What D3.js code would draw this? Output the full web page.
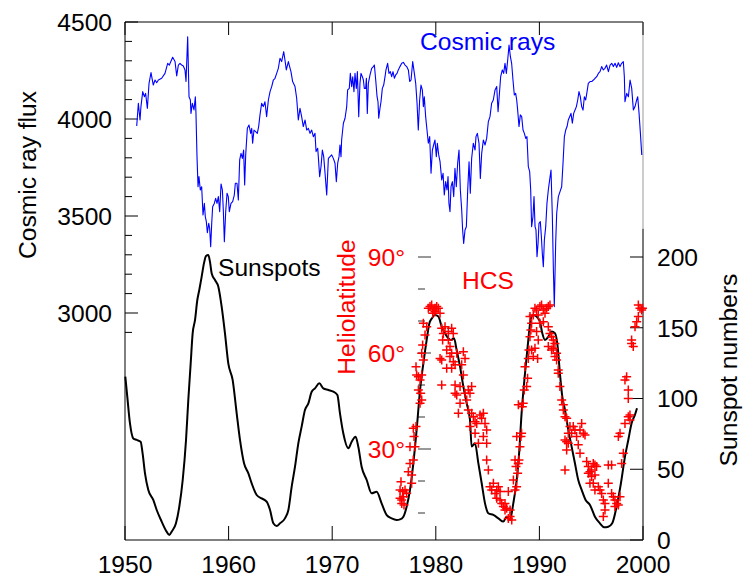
<!DOCTYPE html>
<html>
<head>
<meta charset="utf-8">
<script src="https://cdn.jsdelivr.net/npm/d3@7"></script>
<style>
  html, body { margin: 0; padding: 0; background: #fff; }
  svg { display: block; }
  text { font-family: "Liberation Sans", Arial, sans-serif; }
</style>
</head>
<body>
<svg id="chart" width="744" height="578"></svg>
<script>
// ---------------- DATA ----------------
const xTicks = [1950, 1960, 1970, 1980, 1990, 2000];
const fluxTicks = [4500, 4000, 3500, 3000];
const fluxMinorTicks = [4500,4400,4300,4200,4100,4000,3900,3800,3700,3600,3500,3400,3300,3200,3100,3000,2900];
const sunspotTicks = [0, 50, 100, 150, 200];
const latTicks = [30, 60, 90];
const latMinorTicks = [10, 20, 30, 40, 50, 60, 70, 80, 90];

const crYears = [
1951.13,1951.29,1951.45,1951.54,1951.71,1951.87,1951.99,1952.16,1952.32,1952.51,1952.73,1952.90,1953.06,1953.22,1953.54,1953.86,
1954.12,1954.28,1954.60,1954.83,1954.99,1955.15,1955.31,1955.47,1955.63,1955.79,1955.89,1956.05,1956.18,1956.31,1956.37,1956.50,
1956.66,1956.79,1956.85,1956.95,1957.05,1957.14,1957.27,1957.40,1957.53,1957.66,1957.75,1957.85,1957.95,1958.08,1958.17,1958.27,
1958.37,1958.46,1958.62,1958.75,1958.88,1959.01,1959.14,1959.27,1959.40,1959.49,1959.59,1959.72,1959.85,1959.97,1960.07,1960.23,
1960.39,1960.55,1960.65,1960.81,1960.94,1961.07,1961.20,1961.33,1961.45,1961.55,1961.65,1961.81,1961.97,1962.13,1962.23,1962.32,
1962.45,1962.61,1962.77,1962.90,1963.03,1963.19,1963.35,1963.51,1963.67,1963.84,1964.00,1964.16,1964.32,1964.48,1964.64,1964.80,
1964.96,1965.12,1965.32,1965.44,1965.57,1965.77,1965.89,1966.02,1966.18,1966.41,1966.57,
1966.73,1966.89,1967.05,1967.21,1967.38,1967.54,1967.70,1967.86,1968.02,1968.18,1968.34,1968.44,1968.60,1968.66,1968.79,1968.92,
1969.05,1969.18,1969.31,1969.47,1969.63,1969.79,1969.95,1970.11,1970.27,1970.40,1970.53,1970.66,1970.75,1970.85,1970.91,1971.08,
1971.24,1971.40,1971.49,1971.65,1971.75,1971.88,1971.98,1972.10,1972.20,1972.33,1972.43,1972.56,1972.68,1972.78,1972.91,1973.01,
1973.10,1973.23,1973.30,1973.39,1973.49,1973.65,1973.81,1973.97,1974.07,1974.20,1974.33,1974.42,1974.49,1974.61,1974.71,1974.84,
1974.97,1975.10,1975.19,1975.35,1975.48,1975.61,1975.74,1975.87,1976.00,1976.13,1976.26,1976.38,1976.54,1976.71,1976.87,1977.03,
1977.19,1977.35,1977.48,1977.61,1977.77,1977.93,1978.06,1978.19,1978.31,1978.44,1978.57,1978.70,1978.80,1978.89,1979.02,1979.15,
1979.28,1979.41,1979.54,1979.67,1979.79,1979.92,1980.05,1980.15,1980.28,1980.41,1980.57,1980.70,1980.82,1980.95,1981.08,1981.18,
1981.27,1981.37,1981.47,1981.60,1981.73,1981.85,1981.98,1982.11,1982.24,1982.37,1982.50,1982.59,1982.69,1982.82,1982.95,1983.08,
1983.21,1983.33,1983.46,1983.62,1983.79,1983.88,1984.01,1984.17,1984.30,1984.43,1984.59,1984.75,1984.91,1985.07,1985.23,1985.39,
1985.55,1985.72,1985.88,1986.01,1986.13,1986.26,1986.42,1986.55,1986.68,1986.81,1986.94,1987.07,1987.20,1987.32,1987.45,1987.58,
1987.71,1987.81,1987.90,1988.03,1988.16,1988.29,1988.42,1988.55,1988.68,1988.80,1988.93,1989.06,1989.16,1989.25,1989.38,1989.48,
1989.58,1989.67,1989.77,1989.87,1989.96,1990.09,1990.19,1990.28,1990.38,1990.48,1990.61,1990.73,1990.86,1990.99,1991.12,1991.25,
1991.35,1991.44,1991.57,1991.67,1991.83,1991.99,1992.15,1992.28,1992.41,1992.54,1992.67,1992.79,1992.92,1993.05,1993.18,1993.31,
1993.44,1993.57,1993.70,1993.82,1993.95,1994.08,1994.21,1994.34,1994.47,1994.60,1994.72,1994.89,1995.05,1995.21,1995.37,1995.53,
1995.69,1995.85,1996.01,1996.17,1996.33,1996.49,1996.66,1996.82,1996.98,1997.14,1997.30,1997.46,1997.62,1997.78,1997.94,1998.10,
1998.20,1998.26,1998.43,1998.59,1998.75,1998.91,1999.07,1999.23,1999.39,1999.49,1999.62,1999.75,1999.88
];
const crFlux = [
3964,4081,3995,4064,4141,4115,4132,4055,4184,4239,4175,4201,4187,4201,4210,4235,
4287,4278,4318,4296,4222,4278,4287,4278,4273,4253,4193,4424,4115,4098,4029,4081,
4047,4115,4029,3806,3651,3703,3634,3651,3505,3565,3497,3471,3414,3462,3437,3342,
3462,3548,3565,3591,3565,3600,3522,3665,3634,3531,3368,3522,3617,3600,3522,3565,
3574,3608,3669,3669,3583,3789,3823,3797,3840,3660,3815,3952,3969,3926,3952,3875,
3943,3935,3926,3961,4021,4081,4064,4089,4012,4098,4141,4167,4201,4210,4235,4261,
4313,4296,4347,4304,4253,4296,4270,4244,4193,4167,4107,
3995,4055,4012,3961,3995,3943,3952,3926,3943,3909,3926,3832,3849,3806,3703,3754,
3840,3806,3720,3608,3797,3806,3815,3797,3772,3677,3772,3806,3866,3806,3892,3978,
4004,4064,4150,4158,4235,4167,4218,4141,4235,4158,4244,4012,4184,4235,4218,4201,
4158,4158,4210,4029,4184,4227,4261,4270,4278,4201,4115,4089,4004,4055,4089,4158,
4175,4218,4253,4287,4235,4244,4218,4244,4210,4227,4235,4253,4270,4287,4292,4278,
4270,4253,4193,4201,4296,4235,4184,4081,3943,4098,4175,4150,4064,4115,4012,3943,
3875,3909,3720,3840,3866,3892,3806,3875,3815,3780,3686,3720,3608,3677,3634,3703,
3565,3522,3651,3677,3600,3746,3651,3772,3840,3634,3531,3428,3359,3428,3445,3634,
3780,3617,3797,3875,3840,3909,3926,3875,3694,3823,3892,3866,3900,3986,4012,4081,
4098,4150,4167,4038,4124,4218,4253,4235,4287,4235,4304,4381,4321,4287,4201,4124,
4132,4098,4047,3961,4021,4012,3943,3926,3900,3909,3754,3729,3634,3445,3497,3600,
3445,3428,3290,3359,3462,3471,3394,3308,3239,3376,3445,3565,3634,3686,3737,3497,
3222,3033,3359,3514,3600,3626,3651,3772,3909,3943,3961,3995,4012,4029,3978,4029,
4046,4064,4098,4141,4115,4064,4046,4115,4098,4141,4184,4193,4193,4201,4210,4218,
4235,4244,4270,4253,4261,4278,4244,4278,4287,4270,4287,4266,4290,4270,4287,4296,
4218,4089,4132,4115,4201,4158,4047,4064,4098,4115,4029,3926,3814
];

const ssYears = [
1950.03,1950.22,1950.48,1950.80,1951.13,1951.51,1951.70,1951.93,1952.25,1952.73,1953.06,1953.54,1954.02,1954.28,1954.50,1954.92,
1955.24,1955.57,1955.89,1956.11,1956.34,1956.53,1956.76,1956.98,1957.17,1957.40,1957.62,1957.82,1958.04,1958.20,1958.37,1958.69,
1959.01,1959.33,1959.65,1959.97,1960.39,1960.78,1961.10,1961.49,1961.91,1962.23,1962.71,1963.19,1963.67,1964.00,1964.32,1964.64,
1964.96,1965.44,1965.77,1966.09,1966.41,1966.73,1967.05,1967.37,1967.70,1968.02,1968.34,1968.76,1969.14,1969.63,1970.11,1970.50,
1970.75,1971.07,1971.56,1971.88,1972.26,1972.52,1972.84,1973.33,1973.81,1974.29,1974.77,1975.26,1975.74,1976.22,1976.55,1976.87,
1977.19,1977.51,1977.83,1978.15,1978.48,1978.80,1979.12,1979.38,1979.63,1979.92,1980.25,1980.57,1980.89,1981.21,1981.47,1981.76,
1982.01,1982.34,1982.66,1982.98,1983.30,1983.46,1983.78,1984.11,1984.43,1984.75,1985.07,1985.55,1986.04,1986.52,1986.84,1987.16,
1987.48,1987.81,1988.03,1988.28,1988.61,1988.93,1989.18,1989.41,1989.73,1990.05,1990.28,1990.54,1990.86,1991.18,1991.50,1991.76,
1991.98,1992.21,1992.47,1992.79,1993.11,1993.43,1993.75,1994.08,1994.46,1994.88,1995.36,1995.84,1996.26,1996.65,1997.03,1997.45,
1997.87,1998.26,1998.58,1998.90,1999.22,1999.42
];
const ssNumbers = [
115.4,101.3,82.4,71.8,70.7,69.5,61.2,47.1,35.3,28.3,21.2,13.0,5.9,3.5,5.9,11.8,
23.5,42.4,70.7,98.9,124.8,146.0,155.5,169.6,176.7,186.1,195.5,200.7,201.4,196.7,188.4,183.7,
179.0,164.9,146.0,124.8,113.1,89.5,70.7,54.2,47.1,40.0,31.8,29.4,27.1,21.2,11.8,9.9,
11.8,15.3,21.2,37.7,51.8,68.3,80.1,91.9,96.6,104.8,107.2,110.7,107.2,106.0,104.8,102.5,
89.5,75.4,64.8,69.5,73.0,65.9,51.8,42.4,33.0,34.1,25.9,17.6,15.3,14.2,14.6,16.5,
23.6,35.4,54.2,77.8,106.0,124.9,141.4,153.1,156.7,159.0,157.9,150.8,146.1,142.5,141.4,142.5,
134.3,122.5,108.4,96.6,84.8,66.0,68.3,54.2,40.1,25.9,18.9,17.7,15.3,13.0,16.5,14.2,
25.9,42.4,60.0,89.5,117.8,141.4,156.7,159.0,157.9,154.3,146.1,141.4,143.7,147.3,146.1,136.7,
117.8,101.3,91.9,77.8,66.0,54.2,42.4,35.4,28.3,24.8,16.5,11.8,9.0,9.4,11.8,23.6,
40.1,58.9,70.7,82.5,88.4,93.1
];

const hcsYears = [
1976.71,1976.87,1976.55,1977.03,1976.71,1976.93,1977.19,1976.80,1976.55,1976.64,1977.35,1977.51,1977.67,1977.67,1977.83,1977.99,
1977.51,1977.90,1977.83,1978.09,1978.48,1978.64,1978.54,1978.32,1978.48,1978.15,1978.32,1978.09,1978.64,1978.80,1978.64,1978.73,
1978.96,1979.12,1978.80,1979.28,1979.44,1979.60,1979.76,1979.92,1980.09,1980.25,1979.70,1979.92,1980.41,1980.57,1980.73,1980.89,
1980.66,1981.21,1981.05,1981.37,1981.53,1981.69,1981.21,1980.41,1980.57,1981.05,1981.53,1981.69,1981.86,1981.53,1982.02,1981.37,
1980.57,1981.86,1982.34,1982.50,1982.66,1982.82,1982.66,1981.86,1982.02,1982.34,1982.18,1982.82,1982.98,1983.14,1983.30,1983.46,
1983.14,1983.46,1983.63,1983.30,1983.79,1983.95,1983.79,1984.11,1984.27,1984.43,1984.59,1984.75,1984.91,1984.59,1984.91,1984.91,
1985.07,1985.23,1985.40,1985.56,1985.72,1985.88,1985.88,1986.04,1986.20,1986.20,1986.36,1986.52,1986.68,1986.84,1987.00,1986.68,
1987.17,1987.33,1987.00,1987.17,1987.65,1987.81,1987.97,1987.74,1987.65,1987.49,
1987.80,1987.90,1988.03,1988.12,1988.22,1988.28,1987.96,1988.35,1988.44,1988.54,1988.77,1988.86,1988.61,1988.93,1988.99,1989.09,
1989.18,1989.25,1989.09,1989.41,1989.57,1989.73,1989.89,1990.05,1990.21,1990.38,1990.54,1990.70,1990.86,1991.02,1990.05,1990.38,
1989.73,1989.89,1989.57,1989.25,1989.41,1989.83,1990.86,1991.02,1991.18,1991.34,1991.50,1990.86,1991.18,1991.34,1991.50,1991.66,
1991.66,1991.82,1991.82,1991.98,1992.15,1992.31,1992.31,1992.47,1992.63,1992.47,1992.63,1992.79,1992.63,1992.79,1992.95,1993.27,
1993.11,1993.43,1993.59,1993.92,1994.08,1994.24,1994.40,1993.75,1993.92,1992.47,1994.56,1994.72,1994.88,1995.04,1995.20,1995.36,
1995.52,1994.72,1995.04,1995.36,1994.88,1995.20,1995.36,1995.69,1995.85,1996.01,1996.17,1996.33,1996.33,1996.17,1996.65,1996.97,
1997.13,1997.29,1997.46,1997.62,1997.29,1997.78,1996.65,1996.97,1997.94,1998.10,1997.62,1997.78,1998.26,1998.58,1998.74,1998.74,
1998.26,1998.42,1998.58,1998.58,1998.90,1999.06,1998.90,1999.23,1999.39,1999.55,1999.71,1999.87,1999.55,1999.95
];
const hcsLat = [
14.1,15.1,14.6,17.2,13.0,12.5,16.2,16.7,17.2,19.8,22.9,25.5,19.3,21.9,26.6,30.7,
30.7,33.9,36.5,37.0,44.3,45.3,47.4,48.4,51.6,53.1,52.6,55.7,53.1,57.8,59.9,62.5,
65.6,68.2,69.3,74.0,74.5,75.0,73.4,74.0,74.5,74.0,72.4,72.9,72.4,67.7,66.1,68.2,
64.1,64.1,60.9,62.0,67.7,66.1,66.7,58.3,57.8,55.2,55.2,57.3,56.3,59.9,59.9,58.9,
50.0,50.0,49.5,56.3,60.4,58.3,53.1,47.4,46.9,44.3,41.2,47.4,45.3,48.4,47.4,49.5,
42.2,41.2,40.1,37.0,38.5,38.0,34.9,31.8,40.6,39.6,41.2,38.0,35.9,33.9,31.8,26.6,
23.4,18.2,17.2,19.3,16.1,17.2,14.6,18.2,16.7,14.1,13.0,12.0,10.9,11.5,16.7,13.0,
8.9,7.8,8.3,10.9,26.6,33.9,43.8,24.5,17.2,20.3,
18.2,22.4,26.6,30.7,33.9,34.9,25.5,43.2,44.3,48.4,49.5,52.1,55.7,58.3,60.9,65.1,
67.2,69.3,71.4,71.9,74.0,73.4,71.9,74.5,75.0,73.4,72.4,74.0,74.5,75.0,69.3,69.8,
66.7,64.1,61.5,60.9,58.9,58.3,68.2,66.1,65.1,64.1,63.0,62.0,60.9,61.5,58.9,59.9,
57.8,54.7,53.7,49.5,45.3,43.8,42.2,40.1,39.6,32.8,32.3,31.8,29.7,34.9,37.0,37.0,
34.9,35.9,33.9,35.9,38.0,34.9,34.4,31.3,28.7,23.4,26.1,24.5,22.9,23.4,25.5,25.0,
24.5,22.4,21.4,21.9,19.3,19.3,17.2,18.2,17.2,16.1,14.1,13.0,10.9,8.9,19.3,16.1,
15.1,14.1,13.0,12.5,12.0,15.1,25.0,25.0,25.5,28.7,33.9,34.9,38.0,40.1,40.6,39.1,
51.6,52.6,48.4,45.8,63.0,62.0,64.1,68.2,69.8,71.4,74.0,73.4,75.0,74.0
];

// ---------------- CHART ----------------
const svg = d3.select("#chart");
const L = 125, R = 643, T = 22, B = 540;
const FS = 24.6;

const x = d3.scaleLinear().domain([1950, 2000]).range([L, R]);
const yFlux = d3.scaleLinear().domain([3000, 4500]).range([313, T]);
const ySS = d3.scaleLinear().domain([0, 200]).range([B, 257]);
const yLat = d3.scaleLinear().domain([0, 90]).range([545, 257]);

// frame
svg.append("line").attr("x1", L).attr("x2", R).attr("y1", T).attr("y2", T).attr("stroke", "#000").attr("stroke-width", 1);
svg.append("line").attr("x1", L).attr("x2", L).attr("y1", T).attr("y2", B).attr("stroke", "#000").attr("stroke-width", 1);
svg.append("line").attr("x1", L).attr("x2", R).attr("y1", B).attr("y2", B).attr("stroke", "#000").attr("stroke-width", 1);
svg.append("line").attr("x1", R).attr("x2", R).attr("y1", T).attr("y2", ySS(220)).attr("stroke", "#999").attr("stroke-width", 1);
svg.append("line").attr("x1", R).attr("x2", R).attr("y1", ySS(220)).attr("y2", B).attr("stroke", "#222").attr("stroke-width", 1.2);

// x ticks (top and bottom, inward)
const xt = svg.append("g");
xTicks.forEach(t => {
  xt.append("line").attr("x1", x(t)).attr("x2", x(t)).attr("y1", B).attr("y2", B - 14).attr("stroke", "#000");
  xt.append("line").attr("x1", x(t)).attr("x2", x(t)).attr("y1", T).attr("y2", T + 13).attr("stroke", "#000");
  xt.append("text").attr("x", x(t)).attr("y", 573).attr("text-anchor", "middle")
    .attr("font-size", FS).attr("fill", "#000").text(t);
});

// left flux axis
const ly = svg.append("g");
fluxMinorTicks.forEach(t => {
  const major = fluxTicks.includes(t);
  ly.append("line").attr("x1", L).attr("x2", L + (major ? 13 : 7))
    .attr("y1", yFlux(t)).attr("y2", yFlux(t)).attr("stroke", "#000");
});
fluxTicks.forEach(t => {
  ly.append("text").attr("x", 112).attr("y", yFlux(t)).attr("dy", "0.36em")
    .attr("text-anchor", "end").attr("font-size", FS).attr("fill", "#000").text(t);
});
svg.append("text").attr("transform", "translate(27,175) rotate(-90)")
  .attr("text-anchor", "middle").attr("dy", "0.36em").attr("font-size", FS).attr("fill", "#000")
  .text("Cosmic ray flux");

// right sunspot axis
const ry = svg.append("g");
sunspotTicks.forEach(t => {
  ry.append("line").attr("x1", R).attr("x2", R - 13).attr("y1", ySS(t)).attr("y2", ySS(t)).attr("stroke", "#000");
  ry.append("text").attr("x", 657).attr("y", ySS(t)).attr("dy", "0.36em")
    .attr("text-anchor", "start").attr("font-size", FS).attr("fill", "#000").text(t);
});
svg.append("text").attr("transform", "translate(728,370) rotate(-90)")
  .attr("text-anchor", "middle").attr("dy", "0.36em").attr("font-size", FS).attr("fill", "#000")
  .text("Sunspot numbers");

// heliolatitude floating axis
const hx = 418;
const hy = svg.append("g");
latMinorTicks.forEach(t => {
  const major = latTicks.includes(t);
  hy.append("line").attr("x1", hx).attr("x2", hx + (major ? 13 : 7))
    .attr("y1", yLat(t)).attr("y2", yLat(t)).attr("stroke", "#333").attr("stroke-width", 1);
});
latTicks.forEach(t => {
  hy.append("text").attr("x", 405).attr("y", yLat(t)).attr("dy", "0.36em")
    .attr("text-anchor", "end").attr("font-size", FS).attr("fill", "#ff0000").text(t + "°");
});
svg.append("text").attr("transform", "translate(346,307) rotate(-90)")
  .attr("text-anchor", "middle").attr("dy", "0.36em").attr("font-size", FS).attr("fill", "#ff0000")
  .text("Heliolatitude");

// cosmic ray line
const crData = crYears.map((yr, i) => [yr, crFlux[i]]);
svg.append("path").datum(crData)
  .attr("d", d3.line().x(d => x(d[0])).y(d => yFlux(d[1])))
  .attr("fill", "none").attr("stroke", "#0000ff").attr("stroke-width", 1.1).attr("stroke-linejoin", "round");

// sunspot line
const ssData = ssYears.map((yr, i) => [yr, ssNumbers[i]]);
svg.append("path").datum(ssData)
  .attr("d", d3.line().x(d => x(d[0])).y(d => ySS(d[1])).curve(d3.curveMonotoneX))
  .attr("fill", "none").attr("stroke", "#000").attr("stroke-width", 2).attr("stroke-linejoin", "round");

// HCS markers
const hcsData = hcsYears.map((yr, i) => [yr, hcsLat[i]]);
const mk = svg.append("g").attr("stroke", "#ff0000").attr("stroke-width", 1.5);
mk.selectAll("path").data(hcsData).join("path")
  .attr("d", d => {
    const cx = x(d[0]), cy = yLat(d[1]), h = 4.5;
    return `M${cx - h},${cy}H${cx + h}M${cx},${cy - h}V${cy + h}`;
  });

// labels
svg.append("text").attr("x", 420).attr("y", 50).attr("font-size", FS).attr("fill", "#0000ff").text("Cosmic rays");
svg.append("text").attr("x", 218).attr("y", 276).attr("font-size", FS).attr("fill", "#000").text("Sunspots");
svg.append("text").attr("x", 462).attr("y", 289).attr("font-size", FS).attr("fill", "#ff0000").text("HCS");
</script>
</body>
</html>
